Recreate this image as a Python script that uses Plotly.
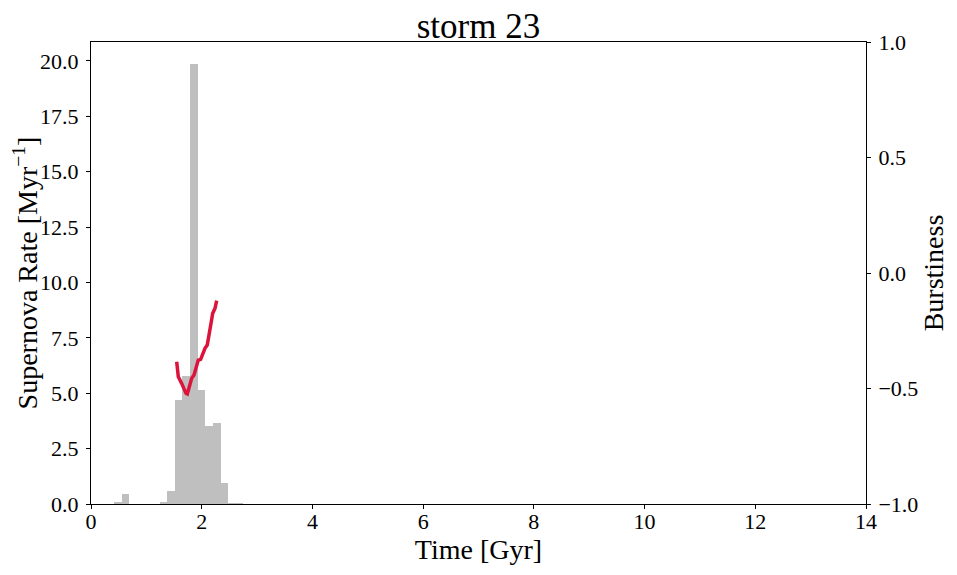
import plotly.graph_objects as go

# supernova rate histogram (bin left edges in Gyr, rate in Myr^-1)
bin_width = 0.1375
bin_left = [0.415, 0.5525, 1.24, 1.3775, 1.515, 1.6525, 1.79, 1.9275, 2.065,
            2.2025, 2.34, 2.4775, 2.615]
sn_rate = [0.09, 0.45, 0.09, 0.6, 4.7, 5.78, 19.86, 5.15, 3.52,
           3.64, 0.95, 0.04, 0.04]

# burstiness curve
burst_time = [1.548, 1.577, 1.638, 1.667, 1.716, 1.74, 1.776, 1.819, 1.861, 1.897,
              1.938, 1.981, 2.017, 2.059, 2.1, 2.137, 2.179, 2.197, 2.24, 2.27]
burstiness = [-0.384, -0.449, -0.478, -0.492, -0.521, -0.524, -0.492, -0.456, -0.442, -0.413,
              -0.377, -0.374, -0.351, -0.326, -0.312, -0.268, -0.203, -0.175, -0.153, -0.12]

bin_mid = [b + bin_width / 2 for b in bin_left]

font = "Liberation Serif"

fig = go.Figure()
fig.add_trace(go.Bar(x=bin_mid, y=sn_rate, width=bin_width,
                     marker=dict(color="#bfbfbf", line=dict(width=0)),
                     showlegend=False))
fig.add_trace(go.Scatter(x=burst_time, y=burstiness, yaxis="y2", mode="lines",
                         line=dict(color="#dc143c", width=3.5), showlegend=False))

axis_common = dict(showgrid=False, zeroline=False, showline=True, linecolor="black",
                   linewidth=1, ticks="outside", ticklen=4, tickcolor="black",
                   automargin=False,
                   tickfont=dict(family=font, size=22, color="black"))
title_font = dict(family=font, size=28, color="black")

# page body has an 8px margin, so the figure is shifted and shrunk to fit
fig.update_layout(
    width=941, height=559,
    margin=dict(l=83, r=83, t=34, b=63),
    plot_bgcolor="white", paper_bgcolor="white",
    bargap=0,
    title=dict(text="storm 23", x=0.5, xanchor="center", y=0.968, yanchor="middle",
               font=dict(family=font, size=35, color="black")),
    xaxis=dict(range=[0, 14], dtick=2, mirror=True, ticklabelstandoff=-6,
               title=dict(text="Time [Gyr]", font=title_font, standoff=4),
               **axis_common),
    yaxis=dict(range=[0, 20.85], dtick=2.5, tickformat=".1f", ticklabelstandoff=3,
               title=dict(text="Supernova Rate [Myr<sup>−1</sup>]", font=title_font,
                          standoff=0),
               **axis_common),
    yaxis2=dict(range=[-1, 1], dtick=0.5, tickformat=".1f", overlaying="y", side="right",
                ticklabelstandoff=3,
                title=dict(text="Burstiness", font=title_font, standoff=8),
                **axis_common),
)

fig.write_html("out.html")
